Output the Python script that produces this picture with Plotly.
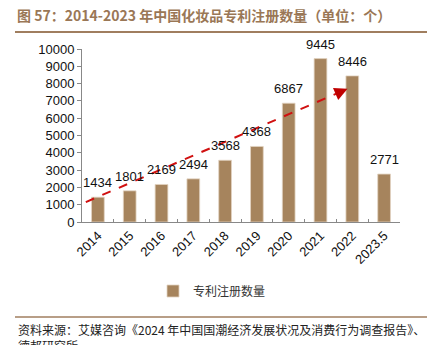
import plotly.graph_objects as go

categories = ["2014", "2015", "2016", "2017", "2018", "2019", "2020", "2021", "2022", "2023.5"]
patents = [1434, 1801, 2169, 2494, 3568, 4368, 6867, 9445, 8446, 2771]
series_name = "专利注册数量"
title_text = "图 57：2014-2023 年中国化妆品专利注册数量（单位：个）"
source_text = "资料来源：艾媒咨询《2024 年中国国潮经济发展状况及消费行为调查报告》、<br>德邦研究所"

# trend arrow (category index, value)
arrow_start = (-0.38, 1150)
arrow_end = (7.85, 7700)

BAR = "#A6845D"
BROWN = "#A07E5F"
LAT = "Liberation Sans, Arial, Noto Sans CJK SC"
CJK = "Noto Sans CJK SC, Liberation Sans"

fig = go.Figure()
fig.add_trace(go.Bar(
    x=categories, y=patents, name=series_name,
    marker=dict(color=BAR, line=dict(color="#E2D3C2", width=0.8)),
    width=0.4, showlegend=True,
))

for i, v in enumerate(patents):
    fig.add_annotation(x=i, y=v, xref="x", yref="y", text=str(v), showarrow=False,
                       yanchor="bottom", yshift=5,
                       font=dict(family=LAT, size=13, color="#111111"))

# dashed trend line + arrowhead
slope = (arrow_end[1] - arrow_start[1]) / (arrow_end[0] - arrow_start[0])
fig.add_shape(type="line", xref="x", yref="y",
              x0=arrow_start[0], y0=arrow_start[1],
              x1=arrow_end[0] - 0.15, y1=arrow_end[1] - slope * 0.15,
              line=dict(color="#D01010", width=2, dash="dash"))
back = 0.35
fig.add_annotation(x=arrow_end[0], y=arrow_end[1], xref="x", yref="y",
                   ax=arrow_end[0] - back, ay=arrow_end[1] - slope * back,
                   axref="x", ayref="y", showarrow=True, text="",
                   arrowhead=2, arrowsize=1.3, arrowwidth=2, arrowcolor="#C00000")

# title
fig.add_annotation(xref="paper", yref="paper", x=(15 - 82) / 318, y=1 + (49 - 15) / 173,
                   xanchor="left", yanchor="middle", showarrow=False,
                   text="<b>" + title_text + "</b>",
                   font=dict(family=CJK, size=14, color="#9A7756"))
fig.add_shape(type="line", xref="paper", yref="paper",
              x0=(15 - 82) / 318, x1=(427 - 82) / 318,
              y0=1 + (49 - 32) / 173, y1=1 + (49 - 32) / 173,
              line=dict(color=BROWN, width=2))
# source
fig.add_shape(type="line", xref="paper", yref="paper",
              x0=(15 - 82) / 318, x1=(427 - 82) / 318,
              y0=(222 - 317) / 173, y1=(222 - 317) / 173,
              line=dict(color=BROWN, width=1.5))
fig.add_annotation(xref="paper", yref="paper", x=(16 - 82) / 318, y=(222 - 319) / 173,
                   xanchor="left", yanchor="top", align="left", showarrow=False,
                   text=source_text,
                   font=dict(family=CJK, size=12, color="#222222"))

fig.update_layout(
    width=436, height=345,
    margin=dict(l=82, r=36, t=49, b=123),
    paper_bgcolor="white", plot_bgcolor="white",
    bargap=0.6,
    legend=dict(orientation="h", x=(153 - 82) / 318, y=(222 - 291) / 173,
                xanchor="left", yanchor="middle",
                font=dict(family=CJK, size=12, color="#333333"),
                itemwidth=30),
    showlegend=True,
)
fig.update_yaxes(range=[0, 10000], dtick=1000, tickformat="d", showgrid=False,
                 showline=True, linecolor="#888888", linewidth=1,
                 ticks="outside", ticklen=4, tickcolor="#888888",
                 tickfont=dict(family=LAT, size=13, color="#111111"),
                 zeroline=False)
fig.update_xaxes(type="category", showline=True, linecolor="#888888", linewidth=1,
                 ticks="inside", ticklen=3, tickcolor="#888888",
                 tickson="boundaries", tickangle=-45,
                 tickfont=dict(family=LAT, size=13, color="#111111"),
                 range=[-0.5, 9.5])

fig.write_html("out.html")
